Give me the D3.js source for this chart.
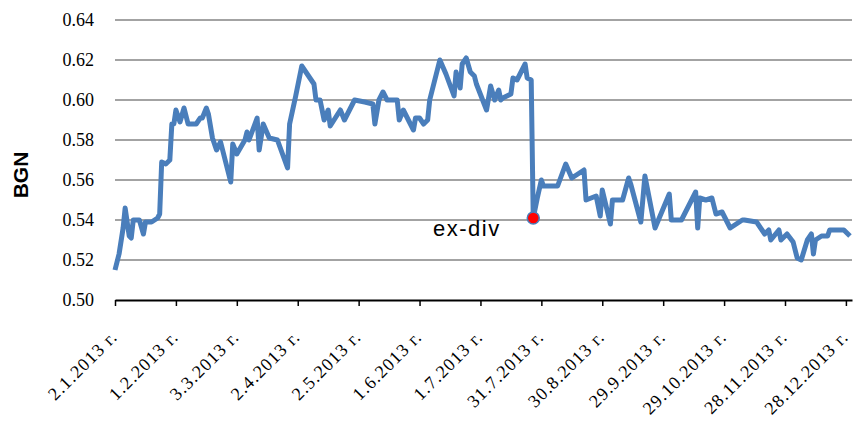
<!DOCTYPE html>
<html>
<head>
<meta charset="utf-8">
<script src="https://cdn.jsdelivr.net/npm/d3@7"></script>
<style>
  body { margin: 0; background: #fff; }
  svg { display: block; }
</style>
</head>
<body>
<div id="chart"></div>
<script>
// price series (BGN)
var dates = ["2013-01-02","2013-01-04","2013-01-06","2013-01-07","2013-01-09","2013-01-10","2013-01-11","2013-01-14","2013-01-16","2013-01-17",
  "2013-01-20","2013-01-23","2013-01-24","2013-01-25","2013-01-27","2013-01-29","2013-01-30","2013-01-31","2013-02-01","2013-02-03",
  "2013-02-05","2013-02-07","2013-02-11","2013-02-13","2013-02-14","2013-02-16","2013-02-17","2013-02-19","2013-02-21","2013-02-23",
  "2013-02-28","2013-03-01","2013-03-03","2013-03-07","2013-03-08","2013-03-09","2013-03-13","2013-03-14","2013-03-16","2013-03-19",
  "2013-03-23","2013-03-28","2013-03-29","2013-04-01","2013-04-04","2013-04-10","2013-04-11","2013-04-13","2013-04-15","2013-04-17",
  "2013-04-18","2013-04-23","2013-04-25","2013-04-30","2013-05-05","2013-05-09","2013-05-10","2013-05-12","2013-05-14","2013-05-16",
  "2013-05-21","2013-05-22","2013-05-24","2013-05-26","2013-05-29","2013-05-30","2013-06-01","2013-06-03","2013-06-05","2013-06-06",
  "2013-06-11","2013-06-14","2013-06-18","2013-06-19","2013-06-21","2013-06-22","2013-06-24","2013-06-26","2013-06-28","2013-06-29",
  "2013-07-04","2013-07-06","2013-07-08","2013-07-10","2013-07-11","2013-07-12","2013-07-16","2013-07-17","2013-07-19","2013-07-23",
  "2013-07-24","2013-07-26","2013-07-27","2013-07-29","2013-07-31","2013-08-01","2013-08-08","2013-08-12","2013-08-15","2013-08-21",
  "2013-08-22","2013-08-27","2013-08-29","2013-08-30","2013-09-03","2013-09-04","2013-09-09","2013-09-12","2013-09-13","2013-09-18",
  "2013-09-20","2013-09-25","2013-10-02","2013-10-03","2013-10-08","2013-10-15","2013-10-16","2013-10-17","2013-10-20","2013-10-23",
  "2013-10-25","2013-10-28","2013-11-01","2013-11-07","2013-11-08","2013-11-14","2013-11-18","2013-11-20","2013-11-21","2013-11-25",
  "2013-11-26","2013-11-29","2013-12-02","2013-12-04","2013-12-06","2013-12-09","2013-12-11","2013-12-12","2013-12-13","2013-12-16",
  "2013-12-19","2013-12-20","2013-12-27","2013-12-30"];
var prices = [0.515,0.523,0.536,0.546,0.532,0.531,0.540,0.540,0.533,0.539,
  0.539,0.541,0.543,0.569,0.568,0.570,0.588,0.588,0.595,0.589,
  0.596,0.588,0.588,0.591,0.591,0.596,0.593,0.581,0.575,0.579,
  0.559,0.578,0.573,0.580,0.584,0.580,0.591,0.575,0.588,0.581,
  0.580,0.566,0.588,0.602,0.617,0.608,0.600,0.600,0.590,0.595,
  0.587,0.595,0.590,0.600,0.599,0.598,0.588,0.600,0.604,0.600,
  0.600,0.590,0.595,0.591,0.585,0.591,0.591,0.588,0.590,0.600,
  0.620,0.613,0.602,0.614,0.606,0.618,0.621,0.614,0.612,0.608,
  0.595,0.607,0.600,0.605,0.600,0.601,0.603,0.611,0.610,0.618,
  0.611,0.610,0.541,0.551,0.560,0.557,0.557,0.568,0.561,0.565,
  0.550,0.552,0.542,0.555,0.538,0.550,0.550,0.561,0.558,0.539,
  0.562,0.536,0.553,0.540,0.540,0.554,0.536,0.551,0.550,0.551,
  0.543,0.544,0.536,0.540,0.540,0.539,0.533,0.535,0.530,0.535,
  0.530,0.533,0.529,0.521,0.520,0.530,0.533,0.523,0.530,0.532,
  0.532,0.535,0.535,0.532];

// axis ticks
var yTicks = [0.50, 0.52, 0.54, 0.56, 0.58, 0.60, 0.62, 0.64];
var tickDates = ["2013-01-02","2013-02-01","2013-03-03","2013-04-02","2013-05-02","2013-06-01","2013-07-01",
  "2013-07-31","2013-08-30","2013-09-29","2013-10-29","2013-11-28","2013-12-28"];
var tickLabels = ["2.1.2013 г.","1.2.2013 г.","3.3.2013 г.","2.4.2013 г.","2.5.2013 г.","1.6.2013 г.","1.7.2013 г.",
  "31.7.2013 г.","30.8.2013 г.","29.9.2013 г.","29.10.2013 г.","28.11.2013 г.","28.12.2013 г."];

// ex-dividend marker
var exDivDate = "2013-07-27";
var exDivValue = 0.541;
var exDivLabel = "ex-div";

var parse = d3.timeParse("%Y-%m-%d");
var data = dates.map(function(d, i) { return { date: parse(d), value: prices[i] }; });

var width = 853, height = 421;
var svg = d3.select("#chart").append("svg")
  .attr("width", width)
  .attr("height", height);

var x = d3.scaleTime()
  .domain([parse("2013-01-02"), parse("2013-12-31")])
  .range([115, 852]);
var y = d3.scaleLinear()
  .domain([0.50, 0.64])
  .range([300, 20]);

// gridlines
svg.append("g")
  .selectAll("line")
  .data(yTicks.filter(function(d) { return d > 0.50; }))
  .enter().append("line")
    .attr("x1", x.range()[0])
    .attr("x2", x.range()[1])
    .attr("y1", function(d) { return y(d); })
    .attr("y2", function(d) { return y(d); })
    .attr("stroke", "#a3a3a3")
    .attr("stroke-width", 2);

// y axis
var yAxis = svg.append("g")
  .attr("transform", "translate(115,0)")
  .call(d3.axisLeft(y).tickValues(yTicks).tickSize(0).tickPadding(21).tickFormat(d3.format(".2f")));
yAxis.select(".domain").remove();
yAxis.selectAll("text")
  .attr("font-family", "'Liberation Serif', 'Times New Roman', serif")
  .attr("font-size", 18)
  .attr("fill", "#000");

// x axis
var xAxis = svg.append("g")
  .attr("transform", "translate(0,300)")
  .call(d3.axisBottom(x)
    .tickValues(tickDates.map(parse))
    .tickSize(6)
    .tickSizeOuter(0)
    .tickFormat(function(d, i) { return tickLabels[i]; }));
xAxis.select(".domain")
  .attr("stroke", "#000")
  .attr("stroke-width", 2);
xAxis.selectAll(".tick line")
  .attr("stroke", "#000")
  .attr("stroke-width", 1.5);
xAxis.selectAll("text")
  .attr("font-family", "'Liberation Serif', 'Times New Roman', serif")
  .attr("font-size", 18)
  .attr("letter-spacing", 1.1)
  .attr("fill", "#000")
  .attr("text-anchor", "end")
  .attr("dy", 0)
  .attr("transform", "translate(3,38) rotate(-45)")
  .attr("y", 0);

// y axis title
svg.append("text")
  .attr("transform", "translate(28,175) rotate(-90)")
  .attr("text-anchor", "middle")
  .attr("font-family", "'Liberation Sans', Arial, sans-serif")
  .attr("font-weight", "bold")
  .attr("font-size", 21)
  .text("BGN");

// price line
var line = d3.line()
  .x(function(d) { return x(d.date); })
  .y(function(d) { return y(d.value); });

svg.append("path")
  .datum(data)
  .attr("fill", "none")
  .attr("stroke", "#4a7ebb")
  .attr("stroke-width", 5)
  .attr("stroke-linejoin", "round")
  .attr("d", line);

// ex-div point and label
svg.append("circle")
  .attr("cx", x(parse(exDivDate)))
  .attr("cy", y(exDivValue))
  .attr("r", 6)
  .attr("fill", "#ff0000")
  .attr("stroke", "#4a7ebb")
  .attr("stroke-width", 1.5);

svg.append("text")
  .attr("x", 433)
  .attr("y", 236)
  .attr("font-family", "'Liberation Sans', Arial, sans-serif")
  .attr("font-size", 22)
  .attr("letter-spacing", 1.5)
  .attr("fill", "#000")
  .text(exDivLabel);
</script>
</body>
</html>
